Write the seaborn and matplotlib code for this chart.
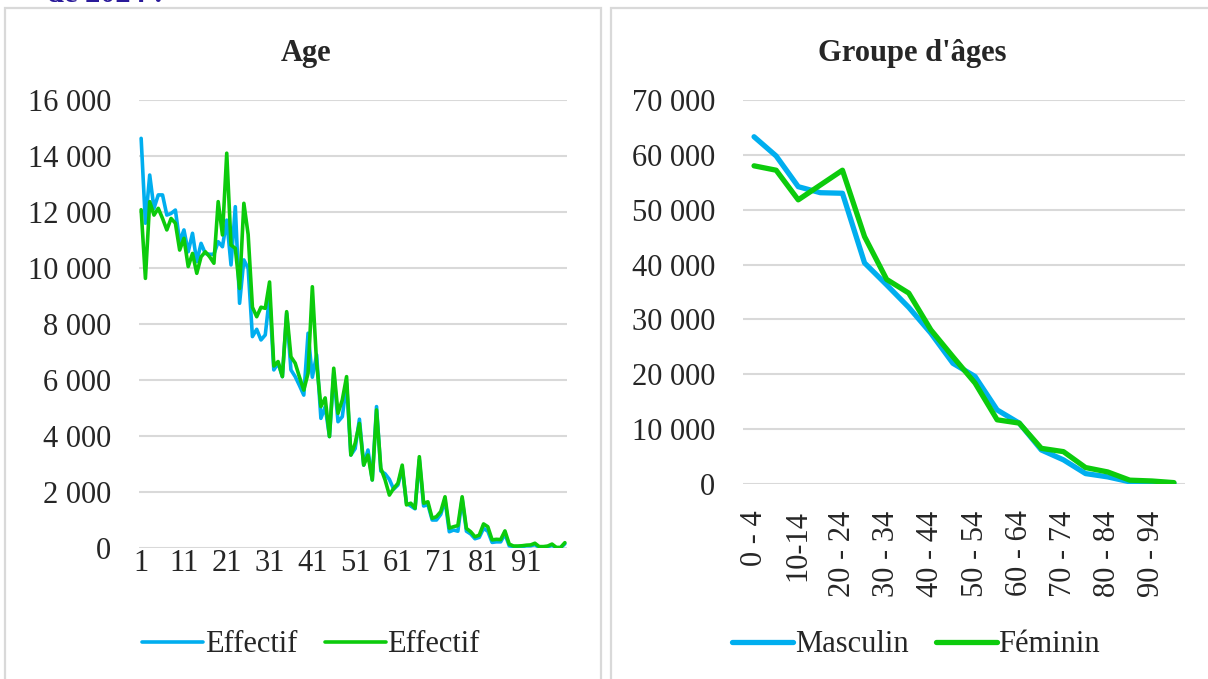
import matplotlib
matplotlib.use("Agg")
import matplotlib.pyplot as plt
from matplotlib.patches import Rectangle
from matplotlib.ticker import FuncFormatter
import seaborn as sns
import numpy as np

# effectifs par age simple (1 a 100)
ages = list(range(1, 101))
effectif_bleu = [
    14630, 11600, 13320, 12130, 12610, 12610, 11890, 11950, 12070, 10940,
    11360, 10580, 11240, 10230, 10880, 10520, 10490, 10490, 10940, 10760,
    11710, 10110, 12190, 8740, 10290, 9990, 7550, 7810, 7430, 7610,
    9000, 6360, 6600, 6120, 8380, 6360, 6120, 5800, 5460, 7670,
    6100, 6900, 4630, 5040, 3980, 6240, 4510, 4690, 5880, 3320,
    3550, 4600, 2960, 3500, 2430, 5050, 2750, 2650, 2450, 2100,
    2250, 2850, 1600, 1500, 1400, 3150, 1500, 1550, 1000, 1000,
    1200, 1700, 580, 640, 600, 1750, 600, 500, 330, 380,
    700, 600, 200, 220, 220, 500, 80, 50, 50, 50,
    80, 80, 120, 20, 20, 40, 100, 10, 10, 150,
]
effectif_vert = [
    12080, 9630, 12370, 11890, 12130, 11770, 11360, 11770, 11600, 10640,
    11060, 10050, 10520, 9810, 10400, 10580, 10400, 10170, 12370, 11180,
    14100, 10820, 10700, 9270, 12310, 11200, 8600, 8260, 8600, 8560,
    9500, 6500, 6660, 6120, 8440, 6830, 6600, 6100, 5640, 6240,
    9330, 6600, 5050, 5360, 3980, 6420, 4810, 5290, 6120, 3320,
    3740, 4450, 2960, 3320, 2430, 4930, 2850, 2430, 1890, 2130,
    2310, 2960, 1540, 1600, 1420, 3260, 1600, 1650, 1060, 1120,
    1300, 1830, 710, 760, 800, 1830, 700, 580, 400, 460,
    860, 760, 290, 310, 300, 610, 140, 70, 70, 80,
    100, 110, 170, 50, 50, 70, 140, 20, 20, 190,
]

# groupes d'ages quinquennaux
groupes = ["0 - 4", "5 - 9", "10-14", "15 - 19", "20 - 24", "25 - 29",
           "30 - 34", "35 - 39", "40 - 44", "45 - 49", "50 - 54", "55 - 59",
           "60 - 64", "65 - 69", "70 - 74", "75 - 79", "80 - 84", "85 - 89",
           "90 - 94", "95 +"]
masculin = [63300, 59800, 54200, 53100, 53000, 40300, 36300, 32200, 27500, 22000,
            19600, 13500, 11100, 6200, 4400, 1900, 1300, 400, 250, 100]
feminin = [58000, 57200, 51800, 54500, 57200, 45100, 37300, 34800, 28100, 23200,
           18400, 11700, 11100, 6500, 5900, 3000, 2200, 700, 550, 250]

bleu = "#00AEEF"
vert = "#0CCB0C"
gris = "#D9D9D9"

sns.set_style("white")
plt.rcParams["font.family"] = ["Liberation Serif", "DejaVu Serif"]
plt.rcParams["font.size"] = 22

W, H = 1208, 679
fig = plt.figure(figsize=(W / 100, H / 100), dpi=100)

# cadres des deux graphiques
fig.patches.append(Rectangle((5 / W, -0.01), 596 / W, 1 - 8 / H + 0.01, transform=fig.transFigure,
                             fill=False, edgecolor=gris, linewidth=1.6))
fig.patches.append(Rectangle((611 / W, -0.01), 600 / W, 1 - 8 / H + 0.01, transform=fig.transFigure,
                             fill=False, edgecolor=gris, linewidth=1.6))

fig.text(47 / W, 1 - 2 / H, "de 2024 :", color="#2A1A9A", fontweight="bold",
         fontsize=22, va="baseline", ha="left")


def rect(l, r, t, b):
    return [l / W, 1 - b / H, (r - l) / W, (b - t) / H]


fmt = FuncFormatter(lambda v, p: f"{int(v):,}".replace(",", " "))

# --- graphique de gauche
ax1 = fig.add_axes(rect(139, 567, 100, 548))
sns.lineplot(x=ages, y=effectif_bleu, ax=ax1, color=bleu, linewidth=2.6, label="Effectif")
sns.lineplot(x=ages, y=effectif_vert, ax=ax1, color=vert, linewidth=2.6, label="Effectif")
ax1.set_xlim(0.5, 100.5)
ax1.set_ylim(0, 16000)
ax1.set_yticks(range(0, 16001, 2000))
ax1.set_xticks(range(1, 101, 10))
ax1.yaxis.set_major_formatter(fmt)
ax1.grid(axis="y", color=gris, linewidth=1.5)
ax1.set_axisbelow(True)
ax1.tick_params(length=0, labelsize=22)
ax1.tick_params(axis="y", pad=20)
ax1.tick_params(axis="x", pad=1)
for s in ax1.spines.values():
    s.set_visible(False)
ax1.legend(loc="center", bbox_to_anchor=(311 / W, 1 - 645 / H), bbox_transform=fig.transFigure,
           ncol=2, frameon=False, handlelength=2.0, handletextpad=0.05, columnspacing=0.9,
           fontsize=22)
fig.text(306 / W, 1 - 53 / H, "Age", ha="center", va="center", fontweight="bold", fontsize=22)

# --- graphique de droite
ax2 = fig.add_axes(rect(743, 1185, 100, 484))
pos = np.arange(len(groupes))
sns.lineplot(x=pos, y=masculin, ax=ax2, color=bleu, linewidth=3.8, label="Masculin")
sns.lineplot(x=pos, y=feminin, ax=ax2, color=vert, linewidth=3.8, label="Féminin")
ax2.set_xlim(-0.5, len(groupes) - 0.5)
ax2.set_ylim(0, 70000)
ax2.set_yticks(range(0, 70001, 10000))
ax2.yaxis.set_major_formatter(fmt)
ax2.set_xticks(pos[::2])
ax2.set_xticklabels(groupes[::2], rotation=90, va="top", ha="center")
ax2.grid(axis="y", color=gris, linewidth=1.5)
ax2.set_axisbelow(True)
ax2.tick_params(length=0, labelsize=22)
ax2.tick_params(axis="y", pad=20)
ax2.tick_params(axis="x", pad=19)
for s in ax2.spines.values():
    s.set_visible(False)
ax2.legend(loc="center", bbox_to_anchor=(916 / W, 1 - 645 / H), bbox_transform=fig.transFigure,
           ncol=2, frameon=False, handlelength=2.0, handletextpad=0.05, columnspacing=0.9,
           fontsize=22)
fig.text(912 / W, 1 - 53 / H, "Groupe d'âges", ha="center", va="center", fontweight="bold", fontsize=22)

fig.savefig("out.png", dpi=100, facecolor="white")
